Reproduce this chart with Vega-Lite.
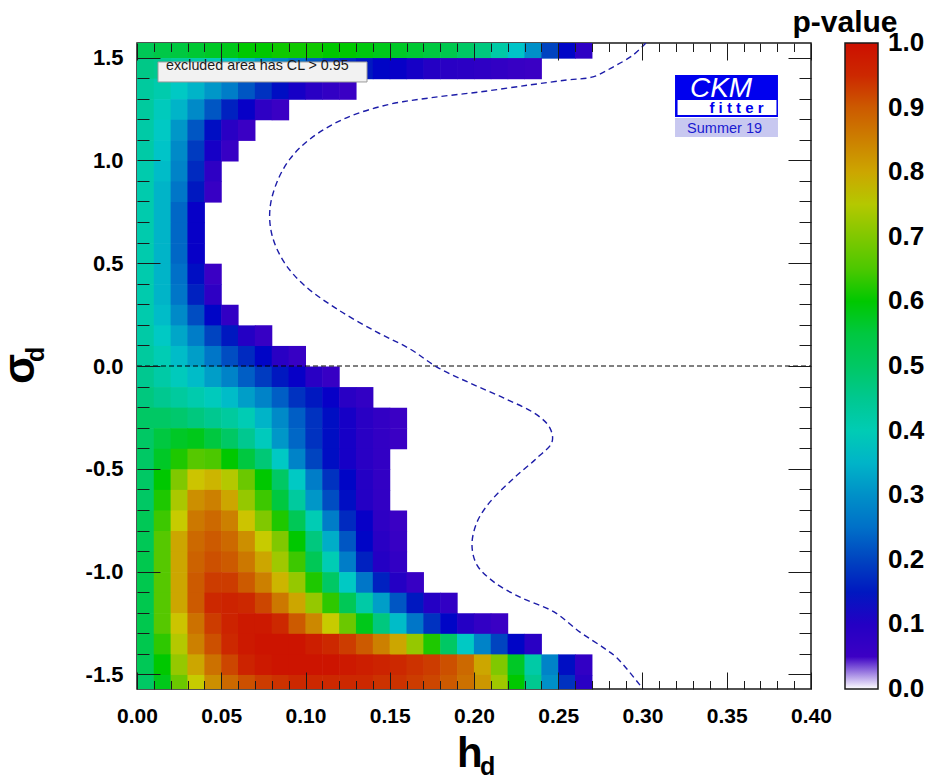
{
"$schema": "https://vega.github.io/schema/vega-lite/v6.json",
"width": 674, "height": 646,
"autosize": "none",
"padding": {"left": 137, "top": 43, "right": 119, "bottom": 88},
"background": "white",
"config": {"view": {"stroke": "#1a1a1a", "strokeWidth": 1.5}, "font": "Liberation Sans"},
"datasets": {
"grid": [
{"h":0,"s":1.5,"p":0.52},{"h":0.01,"s":1.5,"p":0.54},{"h":0.02,"s":1.5,"p":0.55},{"h":0.03,"s":1.5,"p":0.56},{"h":0.04,"s":1.5,"p":0.57},{"h":0.05,"s":1.5,"p":0.58},{"h":0.06,"s":1.5,"p":0.6},{"h":0.07,"s":1.5,"p":0.6},{"h":0.08,"s":1.5,"p":0.61},{"h":0.09,"s":1.5,"p":0.61},{"h":0.1,"s":1.5,"p":0.61},{"h":0.11,"s":1.5,"p":0.6},{"h":0.12,"s":1.5,"p":0.6},{"h":0.13,"s":1.5,"p":0.59},{"h":0.14,"s":1.5,"p":0.58},{"h":0.15,"s":1.5,"p":0.57},{"h":0.16,"s":1.5,"p":0.56},{"h":0.17,"s":1.5,"p":0.55},{"h":0.18,"s":1.5,"p":0.53},{"h":0.19,"s":1.5,"p":0.5},{"h":0.2,"s":1.5,"p":0.47},{"h":0.21,"s":1.5,"p":0.42},{"h":0.22,"s":1.5,"p":0.37},{"h":0.23,"s":1.5,"p":0.3},{"h":0.24,"s":1.5,"p":0.2},{"h":0.25,"s":1.5,"p":0.13},{"h":0.26,"s":1.5,"p":0.08},
{"h":0,"s":1.4,"p":0.46},{"h":0.01,"s":1.4,"p":0.45},{"h":0.02,"s":1.4,"p":0.43},{"h":0.03,"s":1.4,"p":0.41},{"h":0.04,"s":1.4,"p":0.39},{"h":0.05,"s":1.4,"p":0.37},{"h":0.06,"s":1.4,"p":0.34},{"h":0.07,"s":1.4,"p":0.31},{"h":0.08,"s":1.4,"p":0.28},{"h":0.09,"s":1.4,"p":0.25},{"h":0.1,"s":1.4,"p":0.22},{"h":0.11,"s":1.4,"p":0.19},{"h":0.12,"s":1.4,"p":0.17},{"h":0.13,"s":1.4,"p":0.15},{"h":0.14,"s":1.4,"p":0.13},{"h":0.15,"s":1.4,"p":0.12},{"h":0.16,"s":1.4,"p":0.11},{"h":0.17,"s":1.4,"p":0.1},{"h":0.18,"s":1.4,"p":0.09},{"h":0.19,"s":1.4,"p":0.085},{"h":0.2,"s":1.4,"p":0.08},{"h":0.21,"s":1.4,"p":0.07},{"h":0.22,"s":1.4,"p":0.06},{"h":0.23,"s":1.4,"p":0.055},
{"h":0,"s":1.3,"p":0.43},{"h":0.01,"s":1.3,"p":0.41},{"h":0.02,"s":1.3,"p":0.38},{"h":0.03,"s":1.3,"p":0.35},{"h":0.04,"s":1.3,"p":0.31},{"h":0.05,"s":1.3,"p":0.27},{"h":0.06,"s":1.3,"p":0.22},{"h":0.07,"s":1.3,"p":0.18},{"h":0.08,"s":1.3,"p":0.14},{"h":0.09,"s":1.3,"p":0.11},{"h":0.1,"s":1.3,"p":0.09},{"h":0.11,"s":1.3,"p":0.07},{"h":0.12,"s":1.3,"p":0.055},
{"h":0,"s":1.2,"p":0.43},{"h":0.01,"s":1.2,"p":0.39},{"h":0.02,"s":1.2,"p":0.35},{"h":0.03,"s":1.2,"p":0.29},{"h":0.04,"s":1.2,"p":0.22},{"h":0.05,"s":1.2,"p":0.16},{"h":0.06,"s":1.2,"p":0.12},{"h":0.07,"s":1.2,"p":0.08},{"h":0.08,"s":1.2,"p":0.055},
{"h":0,"s":1.1,"p":0.42},{"h":0.01,"s":1.1,"p":0.38},{"h":0.02,"s":1.1,"p":0.31},{"h":0.03,"s":1.1,"p":0.22},{"h":0.04,"s":1.1,"p":0.14},{"h":0.05,"s":1.1,"p":0.09},{"h":0.06,"s":1.1,"p":0.055},
{"h":0,"s":1.0,"p":0.42},{"h":0.01,"s":1.0,"p":0.37},{"h":0.02,"s":1.0,"p":0.29},{"h":0.03,"s":1.0,"p":0.19},{"h":0.04,"s":1.0,"p":0.11},{"h":0.05,"s":1.0,"p":0.06},
{"h":0,"s":0.9,"p":0.41},{"h":0.01,"s":0.9,"p":0.36},{"h":0.02,"s":0.9,"p":0.28},{"h":0.03,"s":0.9,"p":0.17},{"h":0.04,"s":0.9,"p":0.08},
{"h":0,"s":0.8,"p":0.41},{"h":0.01,"s":0.8,"p":0.35},{"h":0.02,"s":0.8,"p":0.26},{"h":0.03,"s":0.8,"p":0.15},{"h":0.04,"s":0.8,"p":0.06},
{"h":0,"s":0.7,"p":0.41},{"h":0.01,"s":0.7,"p":0.35},{"h":0.02,"s":0.7,"p":0.24},{"h":0.03,"s":0.7,"p":0.12},
{"h":0,"s":0.6,"p":0.41},{"h":0.01,"s":0.6,"p":0.35},{"h":0.02,"s":0.6,"p":0.24},{"h":0.03,"s":0.6,"p":0.12},
{"h":0,"s":0.5,"p":0.41},{"h":0.01,"s":0.5,"p":0.35},{"h":0.02,"s":0.5,"p":0.24},{"h":0.03,"s":0.5,"p":0.12},
{"h":0,"s":0.4,"p":0.41},{"h":0.01,"s":0.4,"p":0.35},{"h":0.02,"s":0.4,"p":0.25},{"h":0.03,"s":0.4,"p":0.14},{"h":0.04,"s":0.4,"p":0.055},
{"h":0,"s":0.3,"p":0.41},{"h":0.01,"s":0.3,"p":0.35},{"h":0.02,"s":0.3,"p":0.26},{"h":0.03,"s":0.3,"p":0.16},{"h":0.04,"s":0.3,"p":0.08},
{"h":0,"s":0.2,"p":0.41},{"h":0.01,"s":0.2,"p":0.36},{"h":0.02,"s":0.2,"p":0.29},{"h":0.03,"s":0.2,"p":0.21},{"h":0.04,"s":0.2,"p":0.13},{"h":0.05,"s":0.2,"p":0.07},
{"h":0,"s":0.1,"p":0.42},{"h":0.01,"s":0.1,"p":0.38},{"h":0.02,"s":0.1,"p":0.33},{"h":0.03,"s":0.1,"p":0.27},{"h":0.04,"s":0.1,"p":0.2},{"h":0.05,"s":0.1,"p":0.15},{"h":0.06,"s":0.1,"p":0.1},{"h":0.07,"s":0.1,"p":0.06},
{"h":0,"s":0,"p":0.43},{"h":0.01,"s":0,"p":0.4},{"h":0.02,"s":0,"p":0.36},{"h":0.03,"s":0,"p":0.32},{"h":0.04,"s":0,"p":0.26},{"h":0.05,"s":0,"p":0.21},{"h":0.06,"s":0,"p":0.17},{"h":0.07,"s":0,"p":0.13},{"h":0.08,"s":0,"p":0.09},{"h":0.09,"s":0,"p":0.06},
{"h":0,"s":-0.1,"p":0.45},{"h":0.01,"s":-0.1,"p":0.42},{"h":0.02,"s":-0.1,"p":0.39},{"h":0.03,"s":-0.1,"p":0.36},{"h":0.04,"s":-0.1,"p":0.32},{"h":0.05,"s":-0.1,"p":0.28},{"h":0.06,"s":-0.1,"p":0.23},{"h":0.07,"s":-0.1,"p":0.19},{"h":0.08,"s":-0.1,"p":0.15},{"h":0.09,"s":-0.1,"p":0.12},{"h":0.1,"s":-0.1,"p":0.09},{"h":0.11,"s":-0.1,"p":0.06},
{"h":0,"s":-0.2,"p":0.47},{"h":0.01,"s":-0.2,"p":0.45},{"h":0.02,"s":-0.2,"p":0.43},{"h":0.03,"s":-0.2,"p":0.41},{"h":0.04,"s":-0.2,"p":0.39},{"h":0.05,"s":-0.2,"p":0.36},{"h":0.06,"s":-0.2,"p":0.32},{"h":0.07,"s":-0.2,"p":0.28},{"h":0.08,"s":-0.2,"p":0.23},{"h":0.09,"s":-0.2,"p":0.18},{"h":0.1,"s":-0.2,"p":0.15},{"h":0.11,"s":-0.2,"p":0.12},{"h":0.12,"s":-0.2,"p":0.09},{"h":0.13,"s":-0.2,"p":0.07},
{"h":0,"s":-0.3,"p":0.5},{"h":0.01,"s":-0.3,"p":0.5},{"h":0.02,"s":-0.3,"p":0.49},{"h":0.03,"s":-0.3,"p":0.47},{"h":0.04,"s":-0.3,"p":0.45},{"h":0.05,"s":-0.3,"p":0.43},{"h":0.06,"s":-0.3,"p":0.4},{"h":0.07,"s":-0.3,"p":0.35},{"h":0.08,"s":-0.3,"p":0.29},{"h":0.09,"s":-0.3,"p":0.23},{"h":0.1,"s":-0.3,"p":0.18},{"h":0.11,"s":-0.3,"p":0.14},{"h":0.12,"s":-0.3,"p":0.11},{"h":0.13,"s":-0.3,"p":0.09},{"h":0.14,"s":-0.3,"p":0.07},{"h":0.15,"s":-0.3,"p":0.055},
{"h":0,"s":-0.4,"p":0.5},{"h":0.01,"s":-0.4,"p":0.55},{"h":0.02,"s":-0.4,"p":0.57},{"h":0.03,"s":-0.4,"p":0.58},{"h":0.04,"s":-0.4,"p":0.55},{"h":0.05,"s":-0.4,"p":0.5},{"h":0.06,"s":-0.4,"p":0.45},{"h":0.07,"s":-0.4,"p":0.39},{"h":0.08,"s":-0.4,"p":0.31},{"h":0.09,"s":-0.4,"p":0.24},{"h":0.1,"s":-0.4,"p":0.18},{"h":0.11,"s":-0.4,"p":0.14},{"h":0.12,"s":-0.4,"p":0.11},{"h":0.13,"s":-0.4,"p":0.09},{"h":0.14,"s":-0.4,"p":0.07},{"h":0.15,"s":-0.4,"p":0.055},
{"h":0,"s":-0.5,"p":0.5},{"h":0.01,"s":-0.5,"p":0.57},{"h":0.02,"s":-0.5,"p":0.62},{"h":0.03,"s":-0.5,"p":0.66},{"h":0.04,"s":-0.5,"p":0.65},{"h":0.05,"s":-0.5,"p":0.6},{"h":0.06,"s":-0.5,"p":0.55},{"h":0.07,"s":-0.5,"p":0.48},{"h":0.08,"s":-0.5,"p":0.38},{"h":0.09,"s":-0.5,"p":0.28},{"h":0.1,"s":-0.5,"p":0.2},{"h":0.11,"s":-0.5,"p":0.14},{"h":0.12,"s":-0.5,"p":0.11},{"h":0.13,"s":-0.5,"p":0.09},{"h":0.14,"s":-0.5,"p":0.07},
{"h":0,"s":-0.6,"p":0.5},{"h":0.01,"s":-0.6,"p":0.6},{"h":0.02,"s":-0.6,"p":0.7},{"h":0.03,"s":-0.6,"p":0.78},{"h":0.04,"s":-0.6,"p":0.79},{"h":0.05,"s":-0.6,"p":0.75},{"h":0.06,"s":-0.6,"p":0.68},{"h":0.07,"s":-0.6,"p":0.6},{"h":0.08,"s":-0.6,"p":0.5},{"h":0.09,"s":-0.6,"p":0.38},{"h":0.1,"s":-0.6,"p":0.27},{"h":0.11,"s":-0.6,"p":0.18},{"h":0.12,"s":-0.6,"p":0.13},{"h":0.13,"s":-0.6,"p":0.1},{"h":0.14,"s":-0.6,"p":0.07},
{"h":0,"s":-0.7,"p":0.5},{"h":0.01,"s":-0.7,"p":0.62},{"h":0.02,"s":-0.7,"p":0.74},{"h":0.03,"s":-0.7,"p":0.83},{"h":0.04,"s":-0.7,"p":0.85},{"h":0.05,"s":-0.7,"p":0.8},{"h":0.06,"s":-0.7,"p":0.72},{"h":0.07,"s":-0.7,"p":0.64},{"h":0.08,"s":-0.7,"p":0.55},{"h":0.09,"s":-0.7,"p":0.43},{"h":0.1,"s":-0.7,"p":0.31},{"h":0.11,"s":-0.7,"p":0.21},{"h":0.12,"s":-0.7,"p":0.14},{"h":0.13,"s":-0.7,"p":0.1},{"h":0.14,"s":-0.7,"p":0.07},
{"h":0,"s":-0.8,"p":0.52},{"h":0.01,"s":-0.8,"p":0.64},{"h":0.02,"s":-0.8,"p":0.77},{"h":0.03,"s":-0.8,"p":0.86},{"h":0.04,"s":-0.8,"p":0.88},{"h":0.05,"s":-0.8,"p":0.85},{"h":0.06,"s":-0.8,"p":0.78},{"h":0.07,"s":-0.8,"p":0.7},{"h":0.08,"s":-0.8,"p":0.62},{"h":0.09,"s":-0.8,"p":0.52},{"h":0.1,"s":-0.8,"p":0.4},{"h":0.11,"s":-0.8,"p":0.27},{"h":0.12,"s":-0.8,"p":0.17},{"h":0.13,"s":-0.8,"p":0.12},{"h":0.14,"s":-0.8,"p":0.08},{"h":0.15,"s":-0.8,"p":0.055},
{"h":0,"s":-0.9,"p":0.52},{"h":0.01,"s":-0.9,"p":0.66},{"h":0.02,"s":-0.9,"p":0.8},{"h":0.03,"s":-0.9,"p":0.88},{"h":0.04,"s":-0.9,"p":0.9},{"h":0.05,"s":-0.9,"p":0.88},{"h":0.06,"s":-0.9,"p":0.83},{"h":0.07,"s":-0.9,"p":0.77},{"h":0.08,"s":-0.9,"p":0.7},{"h":0.09,"s":-0.9,"p":0.6},{"h":0.1,"s":-0.9,"p":0.47},{"h":0.11,"s":-0.9,"p":0.34},{"h":0.12,"s":-0.9,"p":0.22},{"h":0.13,"s":-0.9,"p":0.13},{"h":0.14,"s":-0.9,"p":0.09},{"h":0.15,"s":-0.9,"p":0.06},
{"h":0,"s":-1.0,"p":0.53},{"h":0.01,"s":-1.0,"p":0.66},{"h":0.02,"s":-1.0,"p":0.8},{"h":0.03,"s":-1.0,"p":0.89},{"h":0.04,"s":-1.0,"p":0.91},{"h":0.05,"s":-1.0,"p":0.9},{"h":0.06,"s":-1.0,"p":0.86},{"h":0.07,"s":-1.0,"p":0.8},{"h":0.08,"s":-1.0,"p":0.73},{"h":0.09,"s":-1.0,"p":0.64},{"h":0.1,"s":-1.0,"p":0.52},{"h":0.11,"s":-1.0,"p":0.4},{"h":0.12,"s":-1.0,"p":0.27},{"h":0.13,"s":-1.0,"p":0.16},{"h":0.14,"s":-1.0,"p":0.1},{"h":0.15,"s":-1.0,"p":0.07},
{"h":0,"s":-1.1,"p":0.53},{"h":0.01,"s":-1.1,"p":0.66},{"h":0.02,"s":-1.1,"p":0.8},{"h":0.03,"s":-1.1,"p":0.9},{"h":0.04,"s":-1.1,"p":0.93},{"h":0.05,"s":-1.1,"p":0.93},{"h":0.06,"s":-1.1,"p":0.9},{"h":0.07,"s":-1.1,"p":0.85},{"h":0.08,"s":-1.1,"p":0.79},{"h":0.09,"s":-1.1,"p":0.72},{"h":0.1,"s":-1.1,"p":0.62},{"h":0.11,"s":-1.1,"p":0.5},{"h":0.12,"s":-1.1,"p":0.38},{"h":0.13,"s":-1.1,"p":0.26},{"h":0.14,"s":-1.1,"p":0.16},{"h":0.15,"s":-1.1,"p":0.1},{"h":0.16,"s":-1.1,"p":0.06},
{"h":0,"s":-1.2,"p":0.53},{"h":0.01,"s":-1.2,"p":0.66},{"h":0.02,"s":-1.2,"p":0.8},{"h":0.03,"s":-1.2,"p":0.9},{"h":0.04,"s":-1.2,"p":0.95},{"h":0.05,"s":-1.2,"p":0.96},{"h":0.06,"s":-1.2,"p":0.95},{"h":0.07,"s":-1.2,"p":0.92},{"h":0.08,"s":-1.2,"p":0.86},{"h":0.09,"s":-1.2,"p":0.8},{"h":0.1,"s":-1.2,"p":0.72},{"h":0.11,"s":-1.2,"p":0.63},{"h":0.12,"s":-1.2,"p":0.52},{"h":0.13,"s":-1.2,"p":0.42},{"h":0.14,"s":-1.2,"p":0.32},{"h":0.15,"s":-1.2,"p":0.22},{"h":0.16,"s":-1.2,"p":0.15},{"h":0.17,"s":-1.2,"p":0.1},{"h":0.18,"s":-1.2,"p":0.07},
{"h":0,"s":-1.3,"p":0.53},{"h":0.01,"s":-1.3,"p":0.66},{"h":0.02,"s":-1.3,"p":0.78},{"h":0.03,"s":-1.3,"p":0.87},{"h":0.04,"s":-1.3,"p":0.93},{"h":0.05,"s":-1.3,"p":0.96},{"h":0.06,"s":-1.3,"p":0.98},{"h":0.07,"s":-1.3,"p":0.98},{"h":0.08,"s":-1.3,"p":0.95},{"h":0.09,"s":-1.3,"p":0.9},{"h":0.1,"s":-1.3,"p":0.84},{"h":0.11,"s":-1.3,"p":0.77},{"h":0.12,"s":-1.3,"p":0.68},{"h":0.13,"s":-1.3,"p":0.58},{"h":0.14,"s":-1.3,"p":0.47},{"h":0.15,"s":-1.3,"p":0.36},{"h":0.16,"s":-1.3,"p":0.26},{"h":0.17,"s":-1.3,"p":0.18},{"h":0.18,"s":-1.3,"p":0.13},{"h":0.19,"s":-1.3,"p":0.1},{"h":0.2,"s":-1.3,"p":0.07},{"h":0.21,"s":-1.3,"p":0.055},
{"h":0,"s":-1.4,"p":0.53},{"h":0.01,"s":-1.4,"p":0.63},{"h":0.02,"s":-1.4,"p":0.75},{"h":0.03,"s":-1.4,"p":0.85},{"h":0.04,"s":-1.4,"p":0.91},{"h":0.05,"s":-1.4,"p":0.95},{"h":0.06,"s":-1.4,"p":0.98},{"h":0.07,"s":-1.4,"p":0.99},{"h":0.08,"s":-1.4,"p":0.99},{"h":0.09,"s":-1.4,"p":0.99},{"h":0.1,"s":-1.4,"p":0.97},{"h":0.11,"s":-1.4,"p":0.95},{"h":0.12,"s":-1.4,"p":0.93},{"h":0.13,"s":-1.4,"p":0.9},{"h":0.14,"s":-1.4,"p":0.85},{"h":0.15,"s":-1.4,"p":0.8},{"h":0.16,"s":-1.4,"p":0.72},{"h":0.17,"s":-1.4,"p":0.62},{"h":0.18,"s":-1.4,"p":0.5},{"h":0.19,"s":-1.4,"p":0.38},{"h":0.2,"s":-1.4,"p":0.28},{"h":0.21,"s":-1.4,"p":0.2},{"h":0.22,"s":-1.4,"p":0.13},{"h":0.23,"s":-1.4,"p":0.09},
{"h":0,"s":-1.5,"p":0.52},{"h":0.01,"s":-1.5,"p":0.6},{"h":0.02,"s":-1.5,"p":0.72},{"h":0.03,"s":-1.5,"p":0.8},{"h":0.04,"s":-1.5,"p":0.87},{"h":0.05,"s":-1.5,"p":0.92},{"h":0.06,"s":-1.5,"p":0.96},{"h":0.07,"s":-1.5,"p":0.98},{"h":0.08,"s":-1.5,"p":0.99},{"h":0.09,"s":-1.5,"p":0.99},{"h":0.1,"s":-1.5,"p":0.99},{"h":0.11,"s":-1.5,"p":0.99},{"h":0.12,"s":-1.5,"p":0.98},{"h":0.13,"s":-1.5,"p":0.97},{"h":0.14,"s":-1.5,"p":0.96},{"h":0.15,"s":-1.5,"p":0.95},{"h":0.16,"s":-1.5,"p":0.94},{"h":0.17,"s":-1.5,"p":0.93},{"h":0.18,"s":-1.5,"p":0.91},{"h":0.19,"s":-1.5,"p":0.88},{"h":0.2,"s":-1.5,"p":0.8},{"h":0.21,"s":-1.5,"p":0.7},{"h":0.22,"s":-1.5,"p":0.57},{"h":0.23,"s":-1.5,"p":0.42},{"h":0.24,"s":-1.5,"p":0.28},{"h":0.25,"s":-1.5,"p":0.14},{"h":0.26,"s":-1.5,"p":0.07},
{"h":0,"s":-1.6,"p":0.5},{"h":0.01,"s":-1.6,"p":0.58},{"h":0.02,"s":-1.6,"p":0.68},{"h":0.03,"s":-1.6,"p":0.77},{"h":0.04,"s":-1.6,"p":0.83},{"h":0.05,"s":-1.6,"p":0.88},{"h":0.06,"s":-1.6,"p":0.91},{"h":0.07,"s":-1.6,"p":0.93},{"h":0.08,"s":-1.6,"p":0.94},{"h":0.09,"s":-1.6,"p":0.95},{"h":0.1,"s":-1.6,"p":0.95},{"h":0.11,"s":-1.6,"p":0.95},{"h":0.12,"s":-1.6,"p":0.95},{"h":0.13,"s":-1.6,"p":0.95},{"h":0.14,"s":-1.6,"p":0.94},{"h":0.15,"s":-1.6,"p":0.94},{"h":0.16,"s":-1.6,"p":0.93},{"h":0.17,"s":-1.6,"p":0.92},{"h":0.18,"s":-1.6,"p":0.9},{"h":0.19,"s":-1.6,"p":0.87},{"h":0.2,"s":-1.6,"p":0.82},{"h":0.21,"s":-1.6,"p":0.73},{"h":0.22,"s":-1.6,"p":0.6},{"h":0.23,"s":-1.6,"p":0.45},{"h":0.24,"s":-1.6,"p":0.3},{"h":0.25,"s":-1.6,"p":0.18},{"h":0.26,"s":-1.6,"p":0.09}
],
"contour": [
{"i":0,"h":0.302,"s":1.5708},{"i":1,"h":0.2944,"s":1.512},{"i":2,"h":0.2825,"s":1.454},{"i":3,"h":0.2706,"s":1.406},{"i":4,"h":0.2552,"s":1.391},{"i":5,"h":0.2332,"s":1.367},{"i":6,"h":0.2036,"s":1.333},{"i":7,"h":0.1739,"s":1.304},{"i":8,"h":0.1484,"s":1.27},{"i":9,"h":0.1228,"s":1.202},{"i":10,"h":0.1027,"s":1.104},{"i":11,"h":0.0908,"s":1.007},{"i":12,"h":0.0831,"s":0.895},{"i":13,"h":0.0789,"s":0.764},{"i":14,"h":0.0801,"s":0.637},{"i":15,"h":0.0872,"s":0.506},{"i":16,"h":0.0991,"s":0.394},{"i":17,"h":0.1187,"s":0.277},{"i":18,"h":0.1424,"s":0.165},{"i":19,"h":0.162,"s":0.083},{"i":20,"h":0.178,"s":-0.005},{"i":21,"h":0.1976,"s":-0.083},{"i":22,"h":0.2178,"s":-0.156},{"i":23,"h":0.2374,"s":-0.238},{"i":24,"h":0.2451,"s":-0.302},{"i":25,"h":0.2463,"s":-0.37},{"i":26,"h":0.2374,"s":-0.447},{"i":27,"h":0.2237,"s":-0.545},{"i":28,"h":0.2095,"s":-0.661},{"i":29,"h":0.2018,"s":-0.759},{"i":30,"h":0.1988,"s":-0.871},{"i":31,"h":0.2018,"s":-0.968},{"i":32,"h":0.2119,"s":-1.051},{"i":33,"h":0.2273,"s":-1.124},{"i":34,"h":0.2475,"s":-1.196},{"i":35,"h":0.2629,"s":-1.294},{"i":36,"h":0.2772,"s":-1.372},{"i":37,"h":0.2849,"s":-1.42},{"i":38,"h":0.3003,"s":-1.5708}
]
},
"layer": [
{
"data": {"name": "grid"},
"mark": {"type": "rect", "clip": true, "binSpacing": 0, "x2Offset": -0.6, "y2Offset": 0.6},
"encoding": {
"x": {"field": "h", "type": "quantitative", "bin": {"binned": true, "step": 0.01}, "scale": {"domain": [0, 0.4], "nice": false, "zero": false},
"axis": {"orient": "bottom", "values": [0,0.05,0.1,0.15,0.2,0.25,0.3,0.35,0.4], "labelExpr": "format(datum.value, '.2f')", "ticks": false, "domain": false, "grid": false, "labelFont": "Liberation Sans", "labelFontSize": 21, "labelFontWeight": "bold", "labelColor": "black", "labelPadding": 16, "labelFlush": false, "labelOverlap": false, "labelBound": false, "title": null}},
"y": {"field": "s", "type": "quantitative", "bin": {"binned": true, "step": 0.1}, "scale": {"domain": [-1.5708, 1.5708], "nice": false, "zero": false},
"axis": {"orient": "left", "values": [-1.5,-1,-0.5,0,0.5,1,1.5], "labelExpr": "datum.value < 0 ? '-' + format(-datum.value, '.1f') : format(datum.value, '.1f')", "ticks": false, "domain": false, "grid": false, "labelFont": "Liberation Sans", "labelFontSize": 22, "labelFontWeight": "bold", "labelColor": "black", "labelPadding": 14, "labelFlush": false, "labelOverlap": false, "labelBound": false, "title": null}},
"color": {"field": "p", "type": "quantitative",
"scale": {"type": "linear", "interpolate": "rgb", "domain": [0,0.0499,0.05,0.1,0.125,0.15,0.2,0.25,0.3,0.35,0.375,0.4,0.45,0.5,0.55,0.6,0.65,0.7,0.75,0.775,0.8,0.85,0.9,0.95,1], "range": ["#ffffff","#ffffff","#3c00c4","#2400c4","#0000c8","#0018c0","#0044c0","#0070c8","#0090c8","#00b4c8","#00c8c8","#00ccb4","#00c890","#00c864","#00c840","#00c800","#4cc800","#80c800","#b4c800","#cccc00","#cca600","#cc8000","#cc5a00","#cc2800","#cc0f00"]},
"legend": {"type": "gradient", "direction": "vertical", "orient": "none", "legendX": 655, "legendY": -35, "padding": 0, "title": "p-value", "titleFont": "Liberation Sans", "titleFontSize": 30, "titleFontWeight": "bold", "titleColor": "black", "titleAnchor": "start", "titleAlign": "center", "titleBaseline": "top", "titlePadding": 5, "gradientLength": 646, "gradientThickness": 33, "gradientStrokeColor": "#1a1a1a", "gradientStrokeWidth": 1.5, "values": [0,0.1,0.2,0.3,0.4,0.5,0.6,0.7,0.8,0.9,1], "labelExpr": "format(datum.value, '.1f')", "labelFont": "Liberation Sans", "labelFontSize": 26, "labelFontWeight": "bold", "labelColor": "black", "labelOffset": 10, "labelBaseline": "middle", "labelOverlap": false,
"encode": {"labels": {"update": {"baseline": {"value": "middle"}}}}}}
}
},
{
"data": {"values": [{}]},
"mark": {"type": "rule", "color": "black", "strokeWidth": 1, "strokeDash": [5, 3]},
"encoding": {
"x": {"datum": 0, "type": "quantitative", "scale": {"domain": [0, 0.4], "nice": false, "zero": false},
"axis": {"orient": "bottom", "zindex": 1, "values": [0,0.01,0.02,0.03,0.04,0.05,0.06,0.07,0.08,0.09,0.1,0.11,0.12,0.13,0.14,0.15,0.16,0.17,0.18,0.19,0.2,0.21,0.22,0.23,0.24,0.25,0.26,0.27,0.28,0.29,0.3,0.31,0.32,0.33,0.34,0.35,0.36,0.37,0.38,0.39,0.4], "labels": false, "domain": false, "grid": false, "ticks": true, "tickColor": "#1a1a1a", "tickWidth": 1, "tickSize": {"condition": {"test": "abs(round(datum.value*100) % 5) < 0.5", "value": -17}, "value": -8.5}, "title": null}},
"x2": {"datum": 0.4},
"y": {"datum": 0, "type": "quantitative", "scale": {"domain": [-1.5708, 1.5708], "nice": false, "zero": false},
"axis": {"orient": "left", "zindex": 1, "values": [-1.5,-1.4,-1.3,-1.2,-1.1,-1,-0.9,-0.8,-0.7,-0.6,-0.5,-0.4,-0.3,-0.2,-0.1,0,0.1,0.2,0.3,0.4,0.5,0.6,0.7,0.8,0.9,1,1.1,1.2,1.3,1.4,1.5], "labels": false, "domain": false, "grid": false, "ticks": true, "tickColor": "#1a1a1a", "tickWidth": 1, "tickSize": {"condition": {"test": "abs(round(datum.value*10) % 5) < 0.5", "value": -23}, "value": -12}, "title": null}}
}
},
{
"data": {"name": "contour"},
"mark": {"type": "line", "color": "#1c1ca8", "strokeWidth": 1.4, "strokeDash": [6, 4], "interpolate": "catmull-rom", "clip": true},
"encoding": {
"x": {"field": "h", "type": "quantitative", "scale": {"domain": [0, 0.4], "nice": false, "zero": false},
"axis": {"orient": "top", "zindex": 1, "values": [0,0.01,0.02,0.03,0.04,0.05,0.06,0.07,0.08,0.09,0.1,0.11,0.12,0.13,0.14,0.15,0.16,0.17,0.18,0.19,0.2,0.21,0.22,0.23,0.24,0.25,0.26,0.27,0.28,0.29,0.3,0.31,0.32,0.33,0.34,0.35,0.36,0.37,0.38,0.39,0.4], "labels": false, "domain": false, "grid": false, "ticks": true, "tickColor": "#1a1a1a", "tickWidth": 1, "tickSize": {"condition": {"test": "abs(round(datum.value*100) % 5) < 0.5", "value": -17}, "value": -8.5}, "title": null}},
"y": {"field": "s", "type": "quantitative", "scale": {"domain": [-1.5708, 1.5708], "nice": false, "zero": false},
"axis": {"orient": "right", "zindex": 1, "values": [-1.5,-1.4,-1.3,-1.2,-1.1,-1,-0.9,-0.8,-0.7,-0.6,-0.5,-0.4,-0.3,-0.2,-0.1,0,0.1,0.2,0.3,0.4,0.5,0.6,0.7,0.8,0.9,1,1.1,1.2,1.3,1.4,1.5], "labels": false, "domain": false, "grid": false, "ticks": true, "tickColor": "#1a1a1a", "tickWidth": 1, "tickSize": {"condition": {"test": "abs(round(datum.value*10) % 5) < 0.5", "value": -23}, "value": -12}, "title": null}},
"order": {"field": "i", "type": "quantitative"}
}
},
{
"data": {"values": [{}]},
"mark": {"type": "rect", "fill": "#f2f2f2", "stroke": "#9a9a9a", "strokeWidth": 1},
"encoding": {
"x": {"datum": 0.01246, "type": "quantitative", "scale": {"domain": [0, 0.4], "nice": false, "zero": false}, "axis": null},
"x2": {"datum": 0.1365},
"y": {"datum": 1.4786, "type": "quantitative", "scale": {"domain": [-1.5708, 1.5708], "nice": false, "zero": false}, "axis": null},
"y2": {"datum": 1.3813}
}
},
{
"data": {"values": [{}]},
"mark": {"type": "text", "align": "left", "baseline": "alphabetic", "font": "Liberation Sans", "fontSize": 14.3, "color": "#1a1a1a"},
"encoding": {
"x": {"datum": 0.01721, "type": "quantitative", "axis": null},
"y": {"datum": 1.4397, "type": "quantitative", "axis": null},
"text": {"value": "excluded area has CL > 0.95"}
}
},
{
"data": {"values": [{}]},
"mark": {"type": "rect", "fill": "#0000ee"},
"encoding": {
"x": {"datum": 0.3193, "type": "quantitative", "axis": null},
"x2": {"datum": 0.3804},
"y": {"datum": 1.4154, "type": "quantitative", "axis": null},
"y2": {"datum": 1.2111}
}
},
{
"data": {"values": [{}]},
"mark": {"type": "rect", "fill": "#ffffff"},
"encoding": {
"x": {"datum": 0.3208, "type": "quantitative", "axis": null},
"x2": {"datum": 0.3795},
"y": {"datum": 1.2938, "type": "quantitative", "axis": null},
"y2": {"datum": 1.2208}
}
},
{
"data": {"values": [{}]},
"mark": {"type": "rect", "fill": "#c8c8f0"},
"encoding": {
"x": {"datum": 0.3193, "type": "quantitative", "axis": null},
"x2": {"datum": 0.3804},
"y": {"datum": 1.2062, "type": "quantitative", "axis": null},
"y2": {"datum": 1.1138}
}
},
{
"data": {"values": [{}]},
"mark": {"type": "text", "align": "center", "baseline": "alphabetic", "font": "Liberation Sans", "fontSize": 28, "fontStyle": "italic", "color": "#ffffff"},
"encoding": {
"x": {"datum": 0.3466, "type": "quantitative", "axis": null},
"y": {"datum": 1.3084, "type": "quantitative", "axis": null},
"text": {"value": "CKM"}
}
},
{
"data": {"values": [{}]},
"mark": {"type": "text", "align": "center", "baseline": "alphabetic", "font": "Liberation Sans", "fontSize": 15, "fontWeight": "bold", "color": "#0000ee"},
"encoding": {
"x": {"datum": 0.3558, "type": "quantitative", "axis": null},
"y": {"datum": 1.2285, "type": "quantitative", "axis": null},
"text": {"value": "f i t t e r"}
}
},
{
"data": {"values": [{}]},
"mark": {"type": "text", "align": "center", "baseline": "alphabetic", "font": "Liberation Sans", "fontSize": 14.5, "color": "#1a1ad0"},
"encoding": {
"x": {"datum": 0.3487, "type": "quantitative", "axis": null},
"y": {"datum": 1.1333, "type": "quantitative", "axis": null},
"text": {"value": "Summer 19"}
}
},
{
"data": {"values": [{}]},
"mark": {"type": "text", "align": "left", "baseline": "alphabetic", "font": "Liberation Sans", "fontSize": 42, "fontWeight": "bold", "color": "black"},
"encoding": {
"x": {"datum": 0.1899, "type": "quantitative", "axis": null},
"y": {"datum": -1.9504, "type": "quantitative", "axis": null},
"text": {"value": "h"}
}
},
{
"data": {"values": [{}]},
"mark": {"type": "text", "align": "left", "baseline": "alphabetic", "font": "Liberation Sans", "fontSize": 25, "fontWeight": "bold", "color": "black"},
"encoding": {
"x": {"datum": 0.2036, "type": "quantitative", "axis": null},
"y": {"datum": -1.9893, "type": "quantitative", "axis": null},
"text": {"value": "d"}
}
},
{
"data": {"values": [{}]},
"mark": {"type": "text", "align": "left", "baseline": "alphabetic", "angle": 270, "font": "Liberation Sans", "fontSize": 44, "fontWeight": "bold", "color": "black"},
"encoding": {
"x": {"datum": -0.0611, "type": "quantitative", "axis": null},
"y": {"datum": -0.0875, "type": "quantitative", "axis": null},
"text": {"value": "σ"}
}
},
{
"data": {"values": [{}]},
"mark": {"type": "text", "align": "left", "baseline": "alphabetic", "angle": 270, "font": "Liberation Sans", "fontSize": 25, "fontWeight": "bold", "color": "black"},
"encoding": {
"x": {"datum": -0.0552, "type": "quantitative", "axis": null},
"y": {"datum": 0.0195, "type": "quantitative", "axis": null},
"text": {"value": "d"}
}
}
],
"resolve": {"axis": {"x": "independent", "y": "independent"}}
}
